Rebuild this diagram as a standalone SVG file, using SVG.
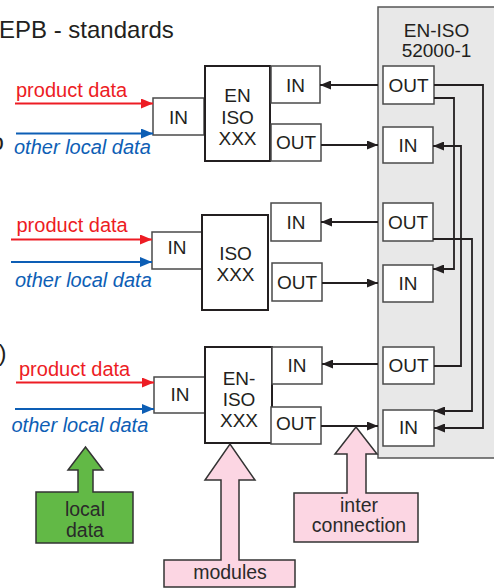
<svg xmlns="http://www.w3.org/2000/svg" width="494" height="588" viewBox="0 0 494 588">
  <style>
    text { font-family: "Liberation Sans", Arial, sans-serif; fill: #231f20; }
    .title { font-size: 24px; }
    .lbl { font-size: 19px; text-anchor: middle; }
    .mod { fill: #ffffff; stroke: #231f20; stroke-width: 2; }
    .port { fill: #ffffff; stroke: #4a4a4a; stroke-width: 1.5; }
    .panel { fill: #e8e8e8; stroke: #555555; stroke-width: 1.5; }
    .wire { fill: none; stroke: #231f20; stroke-width: 1.8; }
    .red { stroke: #ed1c24; stroke-width: 1.8; fill: none; }
    .blue { stroke: #0d5eb5; stroke-width: 1.8; fill: none; }
    .rtxt { font-size: 20px; fill: #ed1c24; }
    .btxt { font-size: 20px; fill: #0d5eb5; font-style: italic; }
    .call { stroke: #333333; stroke-width: 1.5; }
    .ctxt { font-size: 19.5px; text-anchor: middle; fill: #2a2a2a; }
  </style>
  <defs>
    <marker id="ah" markerUnits="userSpaceOnUse" markerWidth="11" markerHeight="9" refX="11" refY="4.5" orient="auto">
      <path d="M0,0 L11,4.5 L0,9 Z" fill="#231f20"/>
    </marker>
    <marker id="ahRed" markerUnits="userSpaceOnUse" markerWidth="12" markerHeight="10" refX="12" refY="5" orient="auto">
      <path d="M0,0 L12,5 L0,10 Z" fill="#ed1c24"/>
    </marker>
    <marker id="ahBlue" markerUnits="userSpaceOnUse" markerWidth="12" markerHeight="10" refX="12" refY="5" orient="auto">
      <path d="M0,0 L12,5 L0,10 Z" fill="#0d5eb5"/>
    </marker>
  </defs>

  <!-- heading and clipped side marks -->
  <text class="title" x="-1" y="38">EPB - standards</text>
  <text class="title" x="-9.5" y="150">o</text>
  <text class="title" x="-1.5" y="361">)</text>

  <!-- EN-ISO 52000-1 overarching panel -->
  <g id="panel">
    <rect class="panel" x="378" y="7" width="124" height="451"/>
    <text class="lbl" x="436.5" y="36.5">EN-ISO</text>
    <text class="lbl" x="436.5" y="57.3">52000-1</text>
    <rect class="port" x="383" y="66" width="51" height="38"/>
    <text class="lbl" x="408.5" y="91.5">OUT</text>
    <rect class="port" x="383" y="127" width="50" height="36"/>
    <text class="lbl" x="408" y="152">IN</text>
    <rect class="port" x="383" y="203" width="50" height="38"/>
    <text class="lbl" x="408" y="228.5">OUT</text>
    <rect class="port" x="383" y="265" width="50" height="37"/>
    <text class="lbl" x="408" y="290">IN</text>
    <rect class="port" x="383" y="347" width="51" height="37"/>
    <text class="lbl" x="408.5" y="371.5">OUT</text>
    <rect class="port" x="383" y="410" width="51" height="36"/>
    <text class="lbl" x="408.5" y="434">IN</text>
  </g>

  <!-- module 1: EN ISO XXX -->
  <g id="module1">
    <rect class="port" x="153" y="98" width="51" height="37"/>
    <text class="lbl" x="178.5" y="123.5">IN</text>
    <rect class="mod" x="205" y="66" width="65" height="95"/>
    <text class="lbl" x="237.5" y="102">EN</text>
    <text class="lbl" x="237.5" y="124">ISO</text>
    <text class="lbl" x="237.5" y="145">XXX</text>
    <rect class="port" x="271" y="66" width="49" height="37"/>
    <text class="lbl" x="295.5" y="91.5">IN</text>
    <rect class="port" x="271" y="124" width="50" height="37"/>
    <text class="lbl" x="296" y="148.5">OUT</text>
  </g>

  <!-- module 2: ISO XXX -->
  <g id="module2">
    <rect class="port" x="152" y="232" width="50" height="37"/>
    <text class="lbl" x="177" y="253.5">IN</text>
    <rect class="mod" x="202" y="215" width="66" height="95"/>
    <text class="lbl" x="235.5" y="259.5">ISO</text>
    <text class="lbl" x="235.5" y="281">XXX</text>
    <rect class="port" x="271" y="203" width="50" height="38"/>
    <text class="lbl" x="296" y="228.5">IN</text>
    <rect class="port" x="272" y="263" width="50" height="38"/>
    <text class="lbl" x="297" y="289">OUT</text>
  </g>

  <!-- module 3: EN-ISO XXX -->
  <g id="module3">
    <rect class="port" x="154" y="377" width="51" height="36"/>
    <text class="lbl" x="180" y="401">IN</text>
    <rect class="mod" x="205" y="347" width="67" height="96"/>
    <text class="lbl" x="239" y="385">EN-</text>
    <text class="lbl" x="239" y="406">ISO</text>
    <text class="lbl" x="239" y="427">XXX</text>
    <rect class="port" x="272" y="347" width="50" height="37"/>
    <text class="lbl" x="297" y="371.5">IN</text>
    <rect class="port" x="271" y="407" width="50" height="37"/>
    <text class="lbl" x="296" y="430">OUT</text>
  </g>

  <!-- local inputs -->
  <g id="inputs">
    <text class="rtxt" x="16" y="97">product data</text>
    <line class="red" x1="15" y1="103.5" x2="153" y2="103.5" marker-end="url(#ahRed)"/>
    <line class="blue" x1="16" y1="133.5" x2="153" y2="133.5" marker-end="url(#ahBlue)"/>
    <text class="btxt" x="14" y="154">other local data</text>

    <text class="rtxt" x="16.5" y="231.5">product data</text>
    <line class="red" x1="11" y1="239.5" x2="152" y2="239.5" marker-end="url(#ahRed)"/>
    <line class="blue" x1="11" y1="262" x2="152" y2="262" marker-end="url(#ahBlue)"/>
    <text class="btxt" x="15" y="287">other local data</text>

    <text class="rtxt" x="19" y="375.5">product data</text>
    <line class="red" x1="16" y1="382.5" x2="154" y2="382.5" marker-end="url(#ahRed)"/>
    <line class="blue" x1="15" y1="409" x2="154" y2="409" marker-end="url(#ahBlue)"/>
    <text class="btxt" x="11.5" y="432">other local data</text>
  </g>

  <!-- connectors between modules and the panel -->
  <g id="connectors">
    <line class="wire" x1="378" y1="85" x2="320" y2="85" marker-end="url(#ah)"/>
    <line class="wire" x1="321" y1="145" x2="378" y2="145" marker-end="url(#ah)"/>
    <line class="wire" x1="378" y1="222" x2="321" y2="222" marker-end="url(#ah)"/>
    <line class="wire" x1="322" y1="283" x2="378" y2="283" marker-end="url(#ah)"/>
    <line class="wire" x1="378" y1="364" x2="322" y2="364" marker-end="url(#ah)"/>
    <line class="wire" x1="321" y1="426" x2="378" y2="426" marker-end="url(#ah)"/>

    <path class="wire" d="M434,85 H483 V428 H434" marker-end="url(#ah)"/>
    <path class="wire" d="M434,98 H454 V269 H433" marker-end="url(#ah)"/>
    <path class="wire" d="M434,366 H461 V146 H433" marker-end="url(#ah)"/>
    <path class="wire" d="M433,239 H472 V411 H434" marker-end="url(#ah)"/>
  </g>

  <!-- callouts -->
  <g id="callout-local">
    <path class="call" fill="#62b946" d="M36,492 H78 V470 H68 L85.5,447 L103,470 H93 V492 H133 V543 H36 Z"/>
    <text class="ctxt" x="85" y="516">local</text>
    <text class="ctxt" x="85" y="537">data</text>
  </g>
  <g id="callout-modules">
    <path class="call" fill="#fcd6e3" d="M164,560 H221 V480 H205 L230,444 L255,480 H239 V560 H295 V587 H164 Z"/>
    <text class="ctxt" x="230" y="579">modules</text>
  </g>
  <g id="callout-inter">
    <path class="call" fill="#fcd6e3" d="M294,493 H347 V454 H335 L356,427 L377,454 H366 V493 H418 V542 H294 Z"/>
    <text class="ctxt" x="359" y="512">inter</text>
    <text class="ctxt" x="359" y="532">connection</text>
  </g>
</svg>
